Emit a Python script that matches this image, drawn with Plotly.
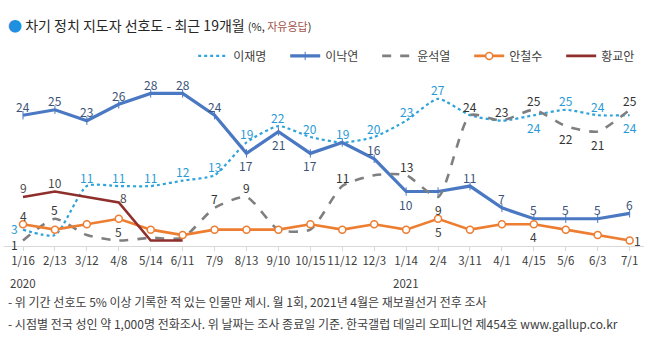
import plotly.graph_objects as go

categories = ["1/16", "2/13", "3/12", "4/8", "5/14", "6/11", "7/9", "8/13", "9/10", "10/15",
              "11/12", "12/3", "1/14", "2/4", "3/11", "4/1", "4/15", "5/6", "6/3", "7/1"]

lee_jm = [3, 2, 11, 11, 11, 12, 13, 19, 22, 20, 19, 20, 23, 27, 24, 23, 24, 25, 24, 24]
lee_ny = [24, 25, 23, 26, 28, 28, 24, 17, 21, 17, 19, 16, 10, 10, 11, 7, 5, 5, 5, 6]
yoon = [1, 5, 2, 1, 1.5, 1.5, 7, 9, 3, 3, 11, 13, 13, 9, 24, 23, 25, 22, 21, 25]
ahn = [4, 3, 4, 5, 3, 2, 3, 3, 3, 4, 3, 4, 3, 5, 3, 4, 4, 3, 2, 1]
hwang = [9, 10, 9, 8, 1, 1]

# label placement per point: "" = no label, t = above, b = below, l/lb = left, r = right, tr = above-right
lee_jm_lab = ["l", "", "t", "t", "t", "t", "t", "t", "t", "t", "t", "t", "t", "t", "", "", "b", "t", "t", "b"]
lee_ny_lab = ["t", "t", "t", "t", "t", "t", "t", "b", "b", "b", "", "t", "b", "", "t", "t", "t", "t", "t", "t"]
yoon_lab = ["lb", "t", "", "", "", "", "t", "t", "", "", "t", "", "t", "b", "t", "t", "t", "b", "b", "t"]
ahn_lab = ["t", "", "", "b", "", "", "", "", "", "", "", "", "", "b", "", "", "b", "", "", "r"]
hwang_lab = ["t", "t", "", "tr", "", ""]

FONT = "Noto Sans CJK KR"
OFFS = {"t": (0, 9), "b": (0, -12.5), "l": (-9, 1.5), "lb": (-9, -3.5), "r": (8, 0), "tr": (5, 5)}

fig = go.Figure()

fig.add_trace(go.Scatter(
    x=categories, y=lee_jm, name="이재명", mode="lines",
    line=dict(color="#2fa3dc", width=2.2, dash="dot", shape="spline", smoothing=0.6)))

fig.add_trace(go.Scatter(
    x=categories, y=lee_ny, name="이낙연", mode="lines+markers",
    line=dict(color="#4a78c2", width=3.2),
    marker=dict(symbol="line-ns-open", size=6, color="#4a78c2", line=dict(color="#4a78c2", width=1))))

fig.add_trace(go.Scatter(
    x=categories, y=yoon, name="윤석열", mode="lines",
    line=dict(color="#7f7f7f", width=2.6, dash="dash", shape="spline", smoothing=0.6)))

fig.add_trace(go.Scatter(
    x=categories, y=ahn, name="안철수", mode="lines+markers",
    line=dict(color="#ed7d31", width=2.6),
    marker=dict(symbol="circle", size=7, color="white", line=dict(color="#ed7d31", width=1.5)),
    cliponaxis=False))

fig.add_trace(go.Scatter(
    x=categories[:len(hwang)], y=hwang, name="황교안", mode="lines",
    line=dict(color="#8e2f2c", width=2.6)))


def add_labels(vals, labs, color):
    for cat, v, lab in zip(categories, vals, labs):
        if not lab:
            continue
        dx, dy = OFFS[lab]
        fig.add_annotation(x=cat, y=v, xref="x", yref="y", text=str(int(v)), showarrow=False,
                           xanchor="center", yanchor="middle", xshift=dx, yshift=dy,
                           font=dict(size=12, color=color, family=FONT))


add_labels(lee_jm, lee_jm_lab, "#2a9ad6")
add_labels(lee_ny, lee_ny_lab, "#3d5478")
add_labels(yoon, yoon_lab, "#333333")
add_labels(ahn, ahn_lab, "#404040")
add_labels(hwang, hwang_lab, "#4a4a4a")

fig.update_layout(
    width=648, height=338,
    margin=dict(l=4, r=4, t=70, b=92, autoexpand=False),
    paper_bgcolor="white", plot_bgcolor="white",
    font=dict(family=FONT, color="#404040"),
    showlegend=True,
    legend=dict(orientation="h", x=0.2956, xanchor="left", y=1.08, yanchor="middle",
                font=dict(size=12, color="#404040", family=FONT), bgcolor="rgba(0,0,0,0)",
                itemwidth=30, tracegroupgap=0, entrywidth=47, entrywidthmode="pixels"),
    xaxis=dict(type="category", range=[-0.595, 19.45], showgrid=False, zeroline=False,
               showline=True, linecolor="#d9d9d9", linewidth=1, tickangle=0, automargin=False,
               ticks="outside", ticklen=4, tickcolor="#d9d9d9",
               tickfont=dict(size=11.5, color="#404040", family=FONT)),
    yaxis=dict(range=[0, 32.3], visible=False, showgrid=False, zeroline=False),
)

fig.add_annotation(
    xref="paper", yref="paper", x=0.003, y=1.256, xanchor="left", yanchor="middle", showarrow=False,
    text="<span style='color:#1f8fdf'>●</span> 차기 정치 지도자 선호도 - 최근 19개월 "
         "<span style='font-size:11px'>(%, <span style='color:#a0524a'>자유응답</span>)</span>",
    font=dict(size=14, color="#262626", family=FONT))

for cat, yr in [(categories[0], "2020"), (categories[12], "2021")]:
    fig.add_annotation(xref="x", yref="paper", x=cat, y=-0.21, text=yr, showarrow=False,
                       xanchor="center", yanchor="middle", font=dict(size=11.5, color="#404040", family=FONT))

notes = ["- 위 기간 선호도 5% 이상 기록한 적 있는 인물만 제시. 월 1회, 2021년 4월은 재보궐선거 전후 조사",
         "- 시점별 전국 성인 약 1,000명 전화조사. 위 날짜는 조사 종료일 기준. 한국갤럽 데일리 오피니언 제454호 www.gallup.co.kr"]
for i, n in enumerate(notes):
    fig.add_annotation(xref="paper", yref="paper", x=0.003, y=(246 - (301 + 22 * i)) / 176,
                       text=n, showarrow=False, xanchor="left", yanchor="middle",
                       font=dict(size=12, color="#404040", family=FONT))

fig.write_html("out.html")
